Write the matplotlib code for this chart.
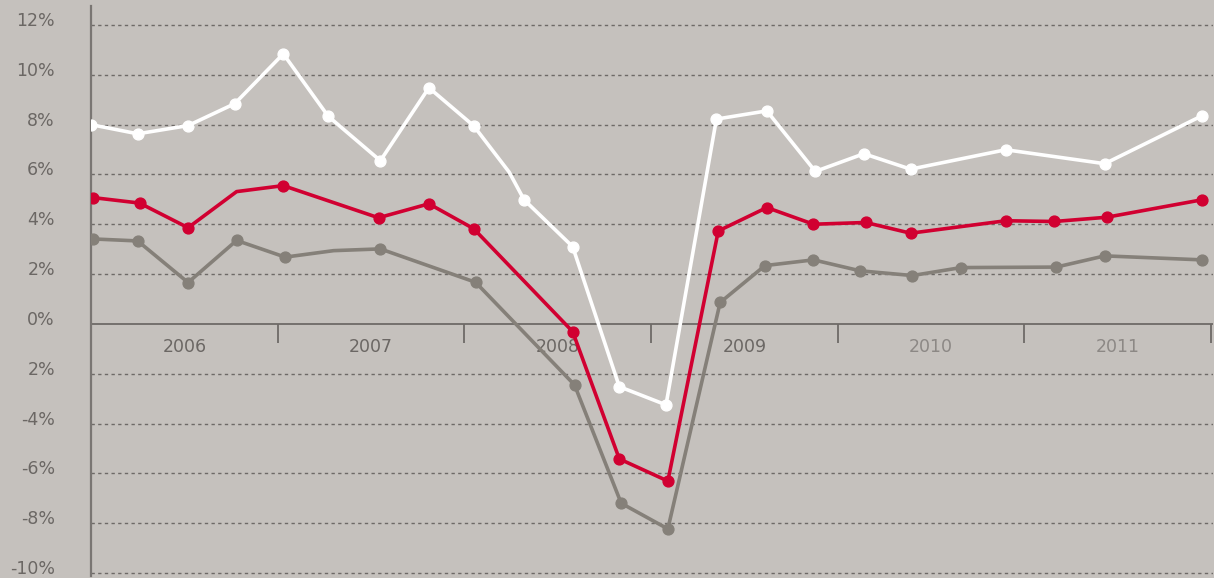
import matplotlib
matplotlib.use("Agg")
import matplotlib.pyplot as plt
import matplotlib.transforms as mtransforms

# ---------------- data ----------------
white_x = [2006.00, 2006.25, 2006.52, 2006.77, 2007.03, 2007.27, 2007.55, 2007.81, 2008.05,
           2008.24, 2008.32, 2008.58, 2008.83, 2009.08, 2009.35, 2009.62, 2009.88, 2010.14,
           2010.39, 2010.90, 2011.43, 2011.95]
white_y = [8.0, 7.63, 7.96, 8.84, 10.84, 8.34, 6.55, 9.48, 7.95,
           6.09, 4.98, 3.10, -2.52, -3.25, 8.22, 8.55, 6.12, 6.83,
           6.21, 6.99, 6.43, 8.35]
white_mark = [1, 1, 1, 1, 1, 1, 1, 1, 1, 0, 1, 1, 1, 1, 1, 1, 1, 1, 1, 1, 1, 1]

red_x = [2006.01, 2006.26, 2006.52, 2006.78, 2007.03, 2007.54, 2007.81, 2008.05, 2008.58,
         2008.83, 2009.09, 2009.36, 2009.62, 2009.87, 2010.15, 2010.39, 2010.90, 2011.16,
         2011.44, 2011.95]
red_y = [5.07, 4.85, 3.86, 5.31, 5.55, 4.26, 4.82, 3.82, -0.31,
         -5.42, -6.31, 3.73, 4.67, 4.00, 4.07, 3.64, 4.14, 4.11,
         4.28, 4.98]
red_mark = [1, 1, 1, 0, 1, 1, 1, 1, 1, 1, 1, 1, 1, 1, 1, 1, 1, 1, 1, 1]

grey_x = [2006.01, 2006.25, 2006.52, 2006.78, 2007.04, 2007.30, 2007.55, 2008.06, 2008.59,
          2008.84, 2009.09, 2009.37, 2009.61, 2009.87, 2010.12, 2010.40, 2010.66, 2011.17,
          2011.43, 2011.95]
grey_y = [3.41, 3.33, 1.66, 3.35, 2.68, 2.94, 3.01, 1.67, -2.45,
          -7.20, -8.23, 0.86, 2.34, 2.57, 2.13, 1.94, 2.26, 2.28,
          2.73, 2.57]
grey_mark = [1, 1, 1, 1, 1, 0, 1, 1, 1, 1, 1, 1, 1, 1, 1, 1, 1, 1, 1, 1]

years = ["2006", "2007", "2008", "2009", "2010", "2011"]
year_colors = ["#6b6764", "#6b6764", "#6b6764", "#6b6764", "#8c8885", "#8c8885"]
ytick_vals = [12, 10, 8, 6, 4, 2, 0, -2, -4, -6, -8, -10]
ytick_labels = ["12%", "10%", "8%", "6%", "4%", "2%", "0%", "2%", "-4%", "-6%", "-8%", "-10%"]

# ---------------- style ----------------
BG = "#c5c1bd"
AXC = "#6e6a67"
W, H = 1214, 578
fig = plt.figure(figsize=(W / 100, H / 100), dpi=100, facecolor=BG)
ax = fig.add_axes([91 / W, 2 / H, (1213 - 91) / W, 570 / H])
ax.set_facecolor(BG)
ax.set_xlim(2006, 2012.01)
ax.set_ylim(-10.12, 12.76)

for s in ["top", "right", "bottom"]:
    ax.spines[s].set_visible(False)
ax.spines["left"].set_color("#7a7673")
ax.spines["left"].set_linewidth(1.6)

# grid lines
for v in ytick_vals:
    if v == 0:
        continue
    ax.axhline(v, color=AXC, lw=1.0, linestyle=(0, (2.4, 2.4)), zorder=1)

# zero line & year ticks
ax.axhline(0, color=AXC, lw=1.3, zorder=1)
year_bounds = [2007, 2008, 2009, 2010, 2011, 2012]
ax.vlines(year_bounds, -0.76, 0, color=AXC, lw=1.3, zorder=1)

# year labels
for i, (lab, c) in enumerate(zip(years, year_colors)):
    ax.text(2006.5 + i, -0.91, lab, ha="center", va="center", fontsize=12.5,
            color=c, family="DejaVu Sans", zorder=2)

# y tick labels
ax.set_xticks([])
ax.set_yticks(ytick_vals)
ax.set_yticklabels(ytick_labels)
ax.tick_params(axis="y", length=0, pad=26, labelsize=12.5, labelcolor="#6b6764")
off = mtransforms.ScaledTranslation(0, 6 / 100, fig.dpi_scale_trans)
for lbl in ax.get_yticklabels():
    lbl.set_transform(lbl.get_transform() + off)

# series
def draw(xs, ys, marks, color, z):
    ax.plot(xs, ys, color=color, lw=2.6, zorder=z, solid_joinstyle="round",
            solid_capstyle="round")
    mx = [x for x, m in zip(xs, marks) if m]
    my = [y for y, m in zip(ys, marks) if m]
    ax.plot(mx, my, "o", color=color, ms=7.8, zorder=z + 0.1, linestyle="none")

draw(grey_x, grey_y, grey_mark, "#858079", 3)
draw(red_x, red_y, red_mark, "#d10031", 4)
draw(white_x, white_y, white_mark, "#ffffff", 5)

fig.savefig("out.png", dpi=100, facecolor=BG)
